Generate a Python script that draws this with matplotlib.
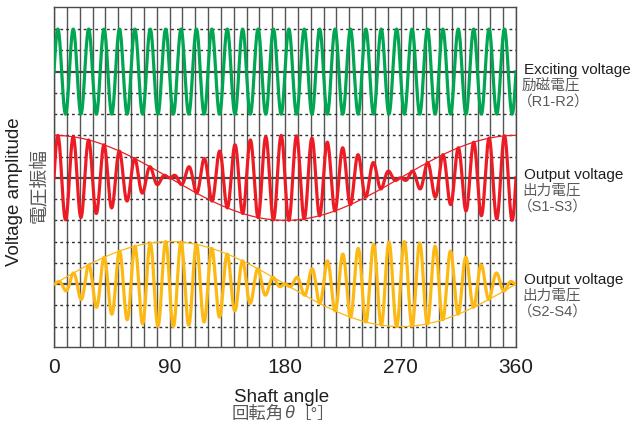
import numpy as np
import matplotlib.pyplot as plt

plt.rcParams['font.family'] = ['Liberation Sans', 'Noto Sans CJK JP', 'DejaVu Sans']

# shaft angle axis (degrees)
angle_ticks = [0, 90, 180, 270, 360]
grid_step = 10
carrier_cycles = 30          # excitation cycles over one turn (12 deg per cycle)

# channels: name, offset on the chart, envelope type, colour
channel_names = ["R1-R2", "S1-S3", "S2-S4"]
channel_offsets = [2.5, 0.0, -2.5]
channel_envelopes = ["const", "cos", "sin"]
channel_colors = ["#00a651", "#ed1c24", "#fdb913"]
label_en = ["Exciting voltage", "Output voltage", "Output voltage"]
label_ja = ["励磁電圧", "出力電圧", "出力電圧"]

dark = "#231f20"
gray = "#58595b"

fig = plt.figure(figsize=(6.31, 4.30), dpi=100)
ax = fig.add_axes([54 / 631, 1 - 347 / 430, 462 / 631, 340 / 430])

theta = np.linspace(0, 360, 7201)
rad = np.deg2rad(theta)
carrier = np.sin(carrier_cycles * rad)

# vertical grid
for g in range(0, 361, grid_step):
    ax.axvline(g, color="#555555", lw=1.0, zorder=1)

for off, env, col in zip(channel_offsets, channel_envelopes, channel_colors):
    for d in (-1, -0.5, 0.5, 1):
        ax.axhline(off + d, color="#333333", lw=1.0, ls=(0, (2, 2.2)), zorder=1)
    ax.axhline(off, color="#444444", lw=1.6, zorder=1)
    if env == "const":
        e = np.ones_like(rad)
    elif env == "cos":
        e = np.cos(rad)
    else:
        e = np.sin(rad)
    ax.plot(theta, off + e * carrier, color=col, lw=2.3, zorder=3, solid_joinstyle="round")
    if env != "const":
        ax.plot(theta, off + e, color=col, lw=0.9, zorder=4)

ax.set_xlim(0, 360)
ax.set_ylim(-3.98, 4.02)
ax.set_yticks([])
ax.set_xticks(angle_ticks)
ax.tick_params(axis="x", length=0, pad=8, labelsize=15, labelcolor=dark)
for s in ax.spines.values():
    s.set_color("#4a4a4a")
    s.set_linewidth(1.0)

# right-hand labels
label_y = [70, 175, 280]
for y, en, ja, nm in zip(label_y, label_en, label_ja, channel_names):
    fig.text(524 / 631, 1 - y / 430, en, fontsize=11, color=dark, va="center", ha="left")
    fig.text(522 / 631, 1 - (y + 16) / 430, ja, fontsize=10.5, color=gray, va="center", ha="left")
    fig.text(518 / 631, 1 - (y + 32) / 430, "（" + nm + "）", fontsize=10.5, color=gray,
             va="center", ha="left")

# y label
fig.text(15 / 631, 1 - 192 / 430, "Voltage amplitude", rotation=90, fontsize=13.5,
         color=dark, va="center", ha="center")
fig.text(39 / 631, 1 - 186 / 430, "電圧振幅", rotation=90, fontsize=13.5,
         color=gray, va="center", ha="center")

# x label
fig.text(234 / 631, 1 - 397 / 430, "Shaft angle", fontsize=13.5, color=dark,
         va="center", ha="left")
t1 = fig.text(232 / 631, 1 - 414 / 430, "回転角", fontsize=12.5, color=gray,
              va="center", ha="left")
t2 = ax.annotate("θ", xy=(1, 0.5), xycoords=t1, va="center", ha="left", fontsize=13,
                 color=gray, style="italic", annotation_clip=False)
ax.annotate("［°］", xy=(1, 0.5), xycoords=t2, va="center", ha="left", fontsize=12,
            color=gray, annotation_clip=False)

fig.savefig("out.png", dpi=100)
